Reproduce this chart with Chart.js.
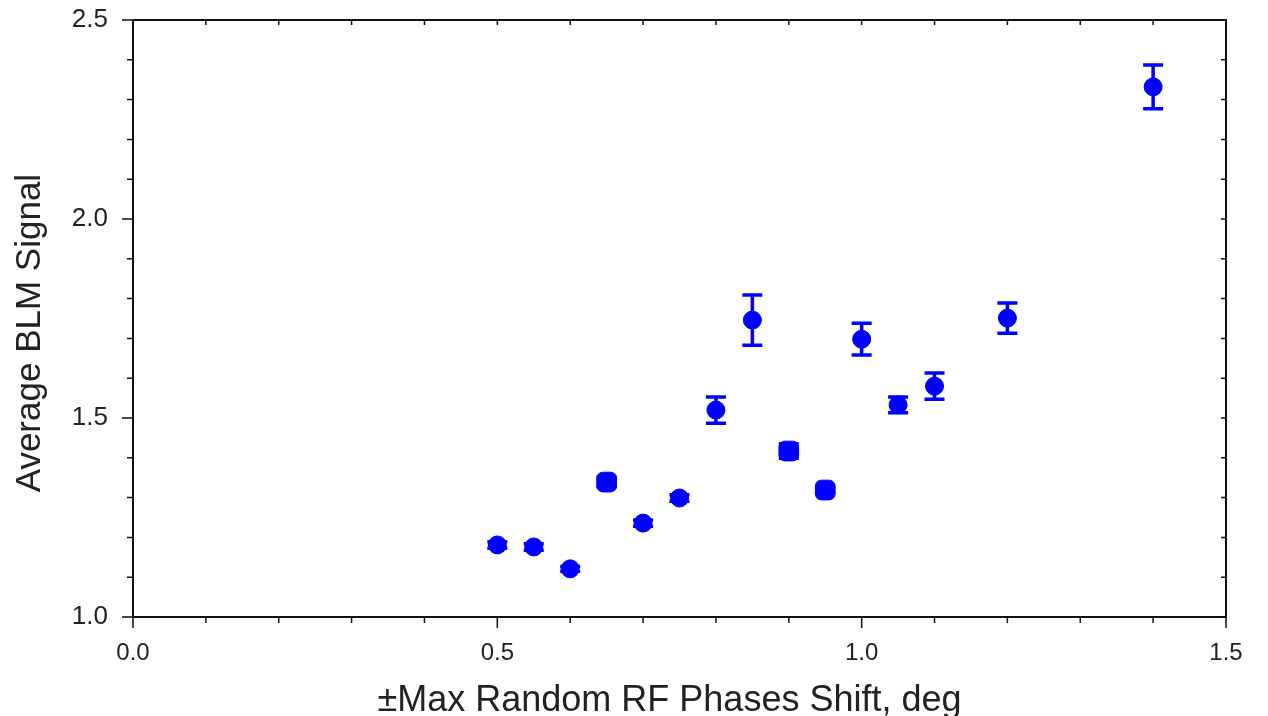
<!DOCTYPE html>
<html>
<head>
<meta charset="utf-8">
<script src="https://cdn.jsdelivr.net/npm/chart.js@4/dist/chart.umd.min.js"></script>
<style>
  html, body { margin: 0; padding: 0; background: #fff; }
  #wrap { width: 1268px; height: 716px; }
</style>
</head>
<body>
<div id="wrap"><canvas id="blmChart"></canvas></div>
<script>
// phase shift (deg) and average BLM signal
const phaseShift = [0.5, 0.55, 0.6, 0.65, 0.7, 0.75, 0.8, 0.85, 0.9, 0.95, 1.0, 1.05, 1.1, 1.2, 1.4];
const blmSignal  = [1.181, 1.176, 1.121, 1.339, 1.236, 1.299, 1.520, 1.746, 1.417, 1.319, 1.698, 1.533, 1.580, 1.751, 2.332];
const blmError   = [0.008, 0.008, 0.006, 0.012, 0.008, 0.008, 0.033, 0.063, 0.018, 0.008, 0.040, 0.020, 0.033, 0.038, 0.055];

const xTicksMajor = [0.0, 0.5, 1.0, 1.5];
const yTicksMajor = [1.0, 1.5, 2.0, 2.5];

// points that look square rather than round in the picture
const squareMarkers = [3, 8, 9];

const blue = '#0000ff';
const fontFamily = '"Liberation Sans", Arial, sans-serif';

const isMajor = (v, list) => list.some(m => Math.abs(m - v) < 1e-6);

// error bars drawn through the scales
const errorBars = {
    id: 'errorBars',
    afterDatasetsDraw(chart) {
        const { ctx, scales: { x, y } } = chart;
        ctx.save();
        ctx.strokeStyle = blue;
        ctx.lineWidth = 3.5;
        phaseShift.forEach((px, i) => {
            const cx = x.getPixelForValue(px);
            const top = y.getPixelForValue(blmSignal[i] + blmError[i]);
            const bot = y.getPixelForValue(blmSignal[i] - blmError[i]);
            ctx.beginPath();
            ctx.moveTo(cx, top); ctx.lineTo(cx, bot);
            ctx.moveTo(cx - 10, top); ctx.lineTo(cx + 10, top);
            ctx.moveTo(cx - 10, bot); ctx.lineTo(cx + 10, bot);
            ctx.stroke();
        });
        ctx.restore();
    }
};

// box frame: outer ticks on left/bottom, inner ticks on top/right
const frame = {
    id: 'frame',
    afterDraw(chart) {
        const { ctx, chartArea: a, scales: { x, y } } = chart;
        ctx.save();
        ctx.strokeStyle = '#111';
        ctx.lineWidth = 2;
        ctx.strokeRect(a.left, a.top, a.right - a.left, a.bottom - a.top);
        ctx.lineWidth = 1.5;
        ctx.beginPath();
        x.ticks.forEach(t => {
            const px = x.getPixelForValue(t.value);
            const len = isMajor(t.value, xTicksMajor) ? 11 : 6;
            ctx.moveTo(px, a.bottom); ctx.lineTo(px, a.bottom + len);
            ctx.moveTo(px, a.top); ctx.lineTo(px, a.top + 5);
        });
        y.ticks.forEach(t => {
            const py = y.getPixelForValue(t.value);
            const len = isMajor(t.value, yTicksMajor) ? 11 : 6;
            ctx.moveTo(a.left, py); ctx.lineTo(a.left - len, py);
            ctx.moveTo(a.right, py); ctx.lineTo(a.right - 5, py);
        });
        ctx.stroke();
        ctx.restore();
    }
};

new Chart(document.getElementById('blmChart'), {
    type: 'scatter',
    data: {
        datasets: [{
            label: 'Average BLM Signal',
            data: phaseShift.map((v, i) => ({ x: v, y: blmSignal[i] })),
            backgroundColor: blue,
            borderColor: blue,
            borderWidth: 1,
            pointRadius: (c) => squareMarkers.includes(c.dataIndex) ? 11.5 : 9,
            pointHoverRadius: (c) => squareMarkers.includes(c.dataIndex) ? 11.5 : 9,
            pointStyle: (c) => squareMarkers.includes(c.dataIndex) ? 'rectRounded' : 'circle'
        }]
    },
    options: {
        responsive: true,
        maintainAspectRatio: false,
        animation: false,
        layout: { padding: { top: 20, right: 42, left: 0, bottom: 0 } },
        plugins: {
            legend: { display: false },
            tooltip: { enabled: false }
        },
        scales: {
            x: {
                type: 'linear',
                min: 0,
                max: 1.5,
                grid: { display: false, drawTicks: false },
                border: { display: false },
                afterFit: (s) => {
                    s.height = 99;
                    s.paddingLeft = 0; s.paddingRight = 0;
                },
                ticks: {
                    stepSize: 0.1,
                    autoSkip: false,
                    maxRotation: 0,
                    padding: 22,
                    color: '#222',
                    font: { family: fontFamily, size: 24 },
                    callback: (v) => isMajor(v, xTicksMajor) ? v.toFixed(1) : ''
                },
                title: {
                    display: true,
                    // trailing spaces nudge the centred title a little left, as in the picture
                    text: '±Max Random RF Phases Shift, deg\u00a0\u00a0',
                    color: '#222',
                    font: { family: fontFamily, size: 36, lineHeight: 0.85 },
                    padding: { top: 0, bottom: 0 }
                }
            },
            y: {
                type: 'linear',
                min: 1.0,
                max: 2.5,
                grid: { display: false, drawTicks: false },
                border: { display: false },
                afterFit: (s) => {
                    s.width = 133;
                    s.paddingTop = 0; s.paddingBottom = 0;
                },
                ticks: {
                    stepSize: 0.1,
                    autoSkip: false,
                    padding: 25,
                    color: '#222',
                    font: { family: fontFamily, size: 26 },
                    callback: (v) => isMajor(v, yTicksMajor) ? v.toFixed(1) : ''
                },
                title: {
                    display: true,
                    text: 'Average BLM Signal\u00a0\u00a0\u00a0',
                    color: '#222',
                    font: { family: fontFamily, size: 35 },
                    padding: { top: 9, bottom: 0 }
                }
            }
        }
    },
    plugins: [errorBars, frame]
});
</script>
</body>
</html>
